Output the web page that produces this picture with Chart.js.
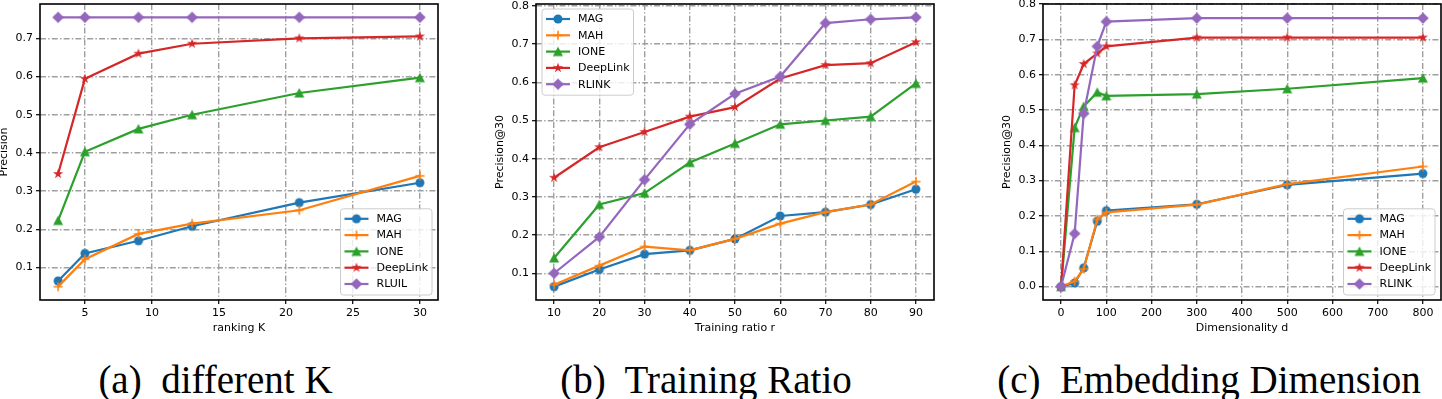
<!DOCTYPE html>
<html><head><meta charset="utf-8">
<script src="https://cdn.jsdelivr.net/npm/chart.js@4.4.0/dist/chart.umd.min.js"></script>
<style>
html,body{margin:0;padding:0;background:#fff;width:1442px;height:399px;overflow:hidden;position:relative}
.pc{position:absolute;top:-10px;width:460px;height:345px}
.cap{position:absolute;top:360px;font-family:'Liberation Serif','Times New Roman',serif;font-size:39px;line-height:39px;white-space:pre;transform:translateX(-50%);color:#000}
</style></head>
<body>
<div class="pc" style="left:-2px"><canvas id="c1"></canvas></div>
<div class="pc" style="left:494px"><canvas id="c2"></canvas></div>
<div class="pc" style="left:1001px"><canvas id="c3"></canvas></div>
<div class="cap" style="left:215.5px">(a)  different K</div>
<div class="cap" style="left:706px">(b)  Training Ratio</div>
<div class="cap" style="left:1209px">(c)  Embedding Dimension</div>
<script>
// ---------- data ----------
const seriesNames = ['MAG','MAH','IONE','DeepLink'];
// (a) different K
const kValues   = [3,5,9,13,21,30];
const magK      = [0.065,0.137,0.170,0.208,0.270,0.322];
const mahK      = [0.050,0.122,0.188,0.215,0.250,0.340];
const ioneK     = [0.223,0.403,0.463,0.500,0.557,0.597];
const deepK     = [0.345,0.594,0.660,0.686,0.700,0.705];
const rluilK    = [0.755,0.755,0.755,0.755,0.755,0.755];
const kTicks    = [5,10,15,20,25,30];
const precKTicks= [0.1,0.2,0.3,0.4,0.5,0.6,0.7];
// (b) training ratio
const ratioValues = [10,20,30,40,50,60,70,80,90];
const magR   = [0.065,0.110,0.150,0.160,0.190,0.250,0.260,0.280,0.320];
const mahR   = [0.070,0.120,0.170,0.160,0.190,0.230,0.260,0.280,0.340];
const ioneR  = [0.140,0.280,0.310,0.390,0.440,0.490,0.500,0.510,0.597];
const deepR  = [0.350,0.430,0.470,0.510,0.535,0.610,0.645,0.650,0.705];
const rlinkR = [0.100,0.195,0.345,0.490,0.570,0.615,0.755,0.765,0.770];
const ratioTicks = [10,20,30,40,50,60,70,80,90];
const precRTicks = [0.1,0.2,0.3,0.4,0.5,0.6,0.7,0.8];
// (c) embedding dimension
const dimValues = [0,30,50,80,100,300,500,800];
const magD   = [0,0.010,0.053,0.185,0.215,0.233,0.288,0.320];
const mahD   = [0,0.015,0.050,0.190,0.210,0.232,0.290,0.340];
const ioneD  = [0,0.450,0.510,0.550,0.540,0.545,0.560,0.590];
const deepD  = [0,0.570,0.630,0.660,0.680,0.705,0.705,0.705];
const rlinkD = [0,0.150,0.490,0.680,0.750,0.760,0.760,0.760];
const dimTicks   = [0,100,200,300,400,500,600,700,800];
const precDTicks = [0.0,0.1,0.2,0.3,0.4,0.5,0.6,0.7,0.8];

// ---------- styles ----------
const colors  = ['#1f77b4','#ff7f0e','#2ca02c','#d62728','#9467bd'];
const markers = ['o','+','^','*','D'];
const FONT = '"DejaVu Sans", sans-serif';

function mk(type,color){
  const c=document.createElement('canvas'); c.width=c.height=16;
  const g=c.getContext('2d'); g.fillStyle=color; g.strokeStyle=color; g.translate(8,8);
  g.beginPath();
  if(type==='o'){ g.arc(0,0,4.5,0,Math.PI*2); g.fill(); }
  else if(type==='+'){ g.lineWidth=1.6; g.moveTo(-4.6,0);g.lineTo(4.6,0);g.moveTo(0,-4.6);g.lineTo(0,4.6);g.stroke(); }
  else if(type==='^'){ g.moveTo(0,-5);g.lineTo(5,4.6);g.lineTo(-5,4.6);g.closePath();g.fill(); }
  else if(type==='*'){
    const R=5.3,r=R*0.382;
    for(let i=0;i<10;i++){const a=-Math.PI/2+i*Math.PI/5;const rr=i%2?r:R;const x=rr*Math.cos(a),y=rr*Math.sin(a);i?g.lineTo(x,y):g.moveTo(x,y);}
    g.closePath(); g.fill();
  }
  else if(type==='D'){ const s=5.8; g.moveTo(0,-s);g.lineTo(s,0);g.lineTo(0,s);g.lineTo(-s,0);g.closePath();g.fill(); }
  return c;
}
const markerImgs = markers.map((m,i)=>mk(m,colors[i]));

const framePlugin = {
  id:'frame',
  afterDatasetsDraw(chart){
    const {ctx,chartArea:ca}=chart;
    ctx.save(); ctx.strokeStyle='#000'; ctx.lineWidth=1.6;
    ctx.strokeRect(ca.left,ca.top,ca.right-ca.left,ca.bottom-ca.top);
    ctx.restore();
  }
};
const legendPlugin = {
  id:'mplLegend',
  afterDraw(chart,args,opts){
    const ctx=chart.ctx, ca=chart.chartArea, ds=chart.data.datasets;
    ctx.save();
    ctx.font='11px '+FONT;
    let tw=0; ds.forEach(d=>{tw=Math.max(tw,ctx.measureText(d.label).width);});
    const rowH=16.3, w=40+tw, h=(ds.length-1)*rowH+21;
    let x0,y0;
    if(opts.loc==='upper left'){x0=ca.left+6;y0=ca.top+5;}
    else {x0=ca.right-6-w;y0=ca.bottom-5-h;}
    ctx.beginPath();
    if(ctx.roundRect) ctx.roundRect(x0,y0,w,h,3); else ctx.rect(x0,y0,w,h);
    ctx.fillStyle='rgba(255,255,255,0.8)'; ctx.fill();
    ctx.strokeStyle='#cccccc'; ctx.lineWidth=1; ctx.stroke();
    ds.forEach((d,i)=>{
      const cy=y0+10+i*rowH;
      ctx.beginPath(); ctx.moveTo(x0+4,cy); ctx.lineTo(x0+28,cy);
      ctx.strokeStyle=d.borderColor; ctx.lineWidth=2.2; ctx.stroke();
      const img=d.pointStyle; ctx.drawImage(img,x0+16-img.width/2,cy-img.height/2);
      ctx.fillStyle='#000'; ctx.textBaseline='middle'; ctx.textAlign='left';
      ctx.fillText(d.label,x0+36,cy+0.5);
    });
    ctx.restore();
  }
};

function makeChart(id, xs, ys, lastName, xTicks, yTicks, xRange, yRange, xTitle, yTitle, legendLoc, yDigits){
  const names=seriesNames.concat([lastName]);
  const datasets=ys.map((arr,i)=>({
    label:names[i],
    data:xs.map((x,j)=>({x:x,y:arr[j]})),
    borderColor:colors[i], backgroundColor:colors[i],
    borderWidth:2.2, pointStyle:markerImgs[i], pointRadius:5, pointHoverRadius:5,
    tension:0, fill:false, order:ys.length-1-i
  }));
  const gridCommon = {color:'#9f9f9f', lineWidth:1.4, tickLength:4, tickColor:'#000', tickWidth:1.2, tickBorderDash:[], drawOnChartArea:true};
  return new Chart(document.getElementById(id),{
    type:'line',
    data:{datasets},
    options:{
      responsive:true, maintainAspectRatio:false, animation:false,
      layout:{padding:{top:14,right:20,left:0,bottom:0}},
      plugins:{legend:{display:false}, tooltip:{enabled:false}, mplLegend:{loc:legendLoc}},
      scales:{
        x:{type:'linear', min:xRange[0], max:xRange[1],
          afterBuildTicks:s=>{s.ticks=xTicks.map(v=>({value:v}));},
          afterFit:s=>{s.height=35;},
          ticks:{color:'#000', font:{family:FONT,size:11}, padding:3, maxRotation:0, autoSkip:false, callback:v=>String(v)},
          grid:gridCommon,
          border:{display:false, dash:[6,2.2,1.4,2.2]},
          title:{display:true, text:xTitle, color:'#000', font:{family:FONT,size:11}, padding:0}
        },
        y:{type:'linear', min:yRange[0], max:yRange[1],
          afterBuildTicks:s=>{s.ticks=yTicks.map(v=>({value:v}));},
          afterFit:s=>{s.width=42;},
          ticks:{color:'#000', font:{family:FONT,size:11}, padding:3, autoSkip:false, callback:v=>Number(v).toFixed(yDigits)},
          grid:gridCommon,
          border:{display:false, dash:[6,2.2,1.4,2.2]},
          title:{display:true, text:yTitle, color:'#000', font:{family:FONT,size:11}, padding:0}
        }
      }
    },
    plugins:[framePlugin, legendPlugin]
  });
}

makeChart('c1', kValues, [magK,mahK,ioneK,deepK,rluilK], 'RLUIL', kTicks, precKTicks,
  [1.65,31.35],[0.015,0.79],'ranking K','Precision','lower right',1);
makeChart('c2', ratioValues, [magR,mahR,ioneR,deepR,rlinkR], 'RLINK', ratioTicks, precRTicks,
  [6,94],[0.03,0.805],'Training ratio r','Precision@30','upper left',1);
makeChart('c3', dimValues, [magD,mahD,ioneD,deepD,rlinkD], 'RLINK', dimTicks, precDTicks,
  [-40,840],[-0.038,0.8],'Dimensionality d','Precision@30','lower right',1);
</script>
</body></html>
